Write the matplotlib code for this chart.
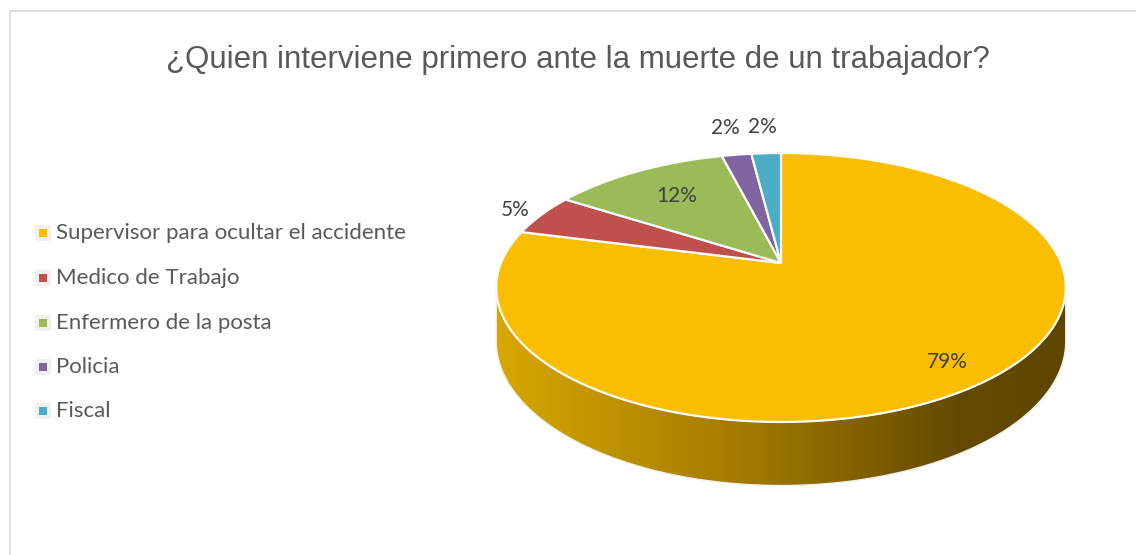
import numpy as np
import matplotlib
matplotlib.use("Agg")
import matplotlib.pyplot as plt
from matplotlib.patches import Polygon, Rectangle, FancyBboxPatch
from matplotlib.colors import LinearSegmentedColormap

# données
categorias = ["Supervisor para ocultar el accidente", "Medico de Trabajo",
              "Enfermero de la posta", "Policia", "Fiscal"]
porcentajes = [79, 5, 12, 2, 2]
colores = ["#FABE00", "#C0504D", "#9BBB59", "#8064A2", "#4BACC6"]
titulo = "¿Quien interviene primero ante la muerte de un trabajador?"

# geometrie du camembert 3D (pixels)
cx, cy = 781, 263
rx, ry = 280, 130
k = 0.182          # perspective
prof = 52          # epaisseur
lab_r = [0.85, 1.12, 0.7, 1.3, 1.3]


def proj(theta, r=1.0, z=0.0):
    u = r * np.cos(theta)
    v = -r * np.sin(theta)
    d = 1 - k * v
    return cx + rx * u / d, cy + (ry * v + prof * z) / d


fig = plt.figure(figsize=(11.36, 5.55), dpi=100)
ax = fig.add_axes([0, 0, 1, 1])

# cadre
ax.plot([10, 10, 1140], [560, 11, 11], color="#D9D9D9", lw=1.2, zorder=0)

# paroi laterale avec degrade
a0 = np.pi + np.arcsin(k)
a1 = 2 * np.pi - np.arcsin(k)
t = np.linspace(a0, a1, 200)
xt, yt = proj(t)
xb, yb = proj(t[::-1], z=1)
side = Polygon(np.column_stack([np.r_[xt, xb], np.r_[yt, yb]]), closed=True,
               facecolor="none", edgecolor="#EEEEEE", lw=1.0, zorder=3)
ax.add_patch(side)
cmap = LinearSegmentedColormap.from_list(
    "cote", [(0, "#D9A800"), (0.45, "#A07800"), (0.8, "#644A00"), (1, "#5E4600")])
grad = np.linspace(0, 1, 256)[None, :]
im = ax.imshow(grad, extent=[490, 1075, 520, 240], aspect="auto", cmap=cmap, zorder=2)
im.set_clip_path(side)

# face superieure
total = sum(porcentajes)
start = np.pi / 2
for i, (p, c) in enumerate(zip(porcentajes, colores)):
    span = 2 * np.pi * p / total
    tt = np.linspace(start, start - span, max(int(p * 6), 10))
    px, py = proj(tt)
    pts = np.column_stack([np.r_[cx, px], np.r_[cy, py]])
    ax.add_patch(Polygon(pts, closed=True, facecolor=c, edgecolor="#FBFBFB",
                         lw=1.6, joinstyle="round", zorder=4))
    mid = start - span / 2
    lx, ly = proj(mid, r=lab_r[i])
    ax.text(lx, ly, f"{p}%", ha="center", va="center", fontsize=15,
            family="Lato", color="#404040", zorder=6)
    start -= span

# titre
ax.text(578, 60, titulo, ha="center", va="center", fontsize=22.5,
        family="Liberation Sans", color="#595959")

# legende
y_leg = [233, 278, 323, 367, 411]
for lbl, c, y in zip(categorias, colores, y_leg):
    ax.add_patch(FancyBboxPatch((35, y - 8), 16, 16,
                                boxstyle="round,pad=0,rounding_size=2",
                                facecolor="#F0F0F0", edgecolor="none", zorder=3))
    ax.add_patch(Rectangle((39, y - 4), 8, 8, facecolor=c, edgecolor="none", zorder=4))
    ax.text(56, y, lbl, ha="left", va="center", fontsize=16, family="Lato",
            color="#595959")

ax.set_xlim(0, 1136)
ax.set_ylim(555, 0)
ax.axis("off")

fig.savefig("out.png", dpi=100, facecolor="white")
